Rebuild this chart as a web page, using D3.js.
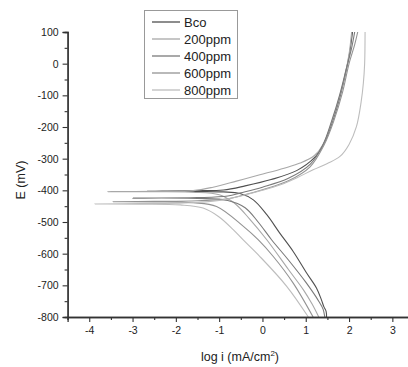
<!DOCTYPE html>
<html><head><meta charset="utf-8">
<script src="https://cdn.jsdelivr.net/npm/d3@7"></script>
<style>body{margin:0;background:#fff}svg{display:block}text{font-family:"Liberation Sans",Arial,sans-serif}</style>
</head><body><svg id="c" width="408" height="367"></svg>
<script>
const seriesNames = ["Bco","200ppm","400ppm","600ppm","800ppm"];
const seriesColors = ["#505050","#a8a8a8","#7a7a7a","#939393","#bdbdbd"];
const xTicks = [-4,-3,-2,-1,0,1,2,3];
const yTicks = [100,0,-100,-200,-300,-400,-500,-600,-700,-800];
// [log i, E]
const bco = [[1.48,-800],[1.47,-782],[1.42,-768],[1.36,-745],[1.25,-709],[1.02,-661],[0.71,-593],[0.40,-535],[0.10,-477],[-0.21,-430],[-0.52,-410],[-0.9,-405],[-1.5,-404],[-2.2,-403.5],[-2.67,-403],[-2.2,-402],[-1.5,-401],[-0.9,-399],[-0.4,-386],[0.2,-366],[0.8,-337],[1.2,-297],[1.42,-252],[1.6,-190],[1.78,-110],[1.92,-30],[2.02,40],[2.08,100]];
const ppm200 = [[1.30,-800],[1.15,-760],[0.95,-715],[0.6,-650],[0.10,-556],[-0.3,-490],[-0.65,-440],[-1.0,-414],[-1.6,-406],[-2.5,-404.5],[-3.57,-404],[-2.5,-403],[-1.6,-401],[-1.14,-390],[-0.6,-371],[-0.06,-351],[0.5,-330],[0.87,-314],[1.2,-290],[1.40,-255],[1.6,-185],[1.75,-120],[1.9,-40],[2.0,30],[2.06,100]];
const ppm400 = [[1.44,-800],[1.40,-775],[1.30,-750],[1.0,-690],[0.6,-620],[0.21,-556],[-0.1,-500],[-0.4,-455],[-0.8,-432],[-1.5,-425.5],[-3.0,-424.5],[-1.5,-423],[-0.8,-418],[-0.5,-408],[0,-390],[0.6,-362],[1.1,-318],[1.40,-255],[1.6,-180],[1.78,-100],[1.93,-20],[2.06,50],[2.13,100]];
const ppm600 = [[1.17,-800],[0.71,-693],[0.25,-609],[-0.10,-556],[-0.44,-514],[-1.06,-451],[-1.6,-439],[-2.5,-436.5],[-3.45,-436],[-2.5,-435],[-1.5,-433],[-0.8,-427],[-0.5,-417],[0,-398],[0.6,-370],[1.1,-326],[1.42,-258],[1.65,-180],[1.85,-90],[2.0,0],[2.13,60],[2.20,100]];
const ppm800 = [[1.06,-800],[0.56,-703],[-0.06,-609],[-0.45,-556],[-0.67,-525],[-1.0,-484],[-1.37,-456],[-1.9,-446],[-2.8,-443.5],[-3.87,-443],[-2.8,-442],[-1.8,-440],[-1.0,-432],[-0.5,-418],[0,-400],[0.4,-383],[0.8,-360],[1.17,-335],[1.5,-315],[1.79,-293],[2.0,-255],[2.17,-199],[2.28,-120],[2.33,-62],[2.36,0],[2.37,100]];
const seriesData = [bco, ppm200, ppm400, ppm600, ppm800];

const svg = d3.select("#c");
const x = d3.scaleLinear().domain([-4.5,3.5]).range([67.6,414]);
const y = d3.scaleLinear().domain([-800,100]).range([317,32]);

const line = d3.line().x(d=>x(d[0])).y(d=>y(d[1])).curve(d3.curveCatmullRom.alpha(0.5));
const g = svg.append("g");
seriesData.forEach((s,i)=>{
  g.append("path").attr("d", line(s)).attr("fill","none")
   .attr("stroke", seriesColors[i]).attr("stroke-width",1.1);
});

const fmt = d => (d<0 ? "-" + Math.abs(d) : String(d));
// axes
const xMinor = d3.range(-4.5,3.6,0.5).filter(v=>!xTicks.includes(v));
const yMinor = d3.range(-750,100,100);
const xa = svg.append("g").attr("transform","translate(0,317)");
xa.call(d3.axisBottom(x).tickValues(xTicks).tickSize(5).tickPadding(5).tickFormat(fmt));
xa.append("g").call(d3.axisBottom(x).tickValues(xMinor).tickSize(3).tickFormat(()=>""));
const ya = svg.append("g").attr("transform","translate(67.6,0)");
ya.call(d3.axisLeft(y).tickValues(yTicks).tickSize(5).tickPadding(4).tickFormat(fmt));
ya.append("g").call(d3.axisLeft(y).tickValues(yMinor).tickSize(3).tickFormat(()=>""));
svg.selectAll(".domain").attr("stroke","#333").attr("stroke-width",1.3);
svg.selectAll(".tick line").attr("stroke","#333").attr("stroke-width",1.1);
svg.selectAll(".tick text").attr("font-size","10.5px").attr("fill","#222").attr("font-family","Liberation Sans, Arial, sans-serif");

svg.append("text").attr("transform","translate(25,180) rotate(-90)").attr("text-anchor","middle")
  .attr("font-size","12.5px").attr("fill","#222").text("E (mV)");
const xl = svg.append("text").attr("x",240).attr("y",361).attr("text-anchor","middle")
  .attr("font-size","12.5px").attr("fill","#222");
xl.append("tspan").text("log i (mA/cm");
xl.append("tspan").attr("font-size","8px").attr("dy",-5).text("2");
xl.append("tspan").attr("dy",5).text(")");

// legend
const lg = svg.append("g");
lg.append("rect").attr("x",144.5).attr("y",10.5).attr("width",93).attr("height",88)
  .attr("fill","#fff").attr("stroke","#999").attr("stroke-width",1);
seriesNames.forEach((n,i)=>{
  const yy = 22 + i*17;
  lg.append("line").attr("x1",152).attr("x2",180).attr("y1",yy).attr("y2",yy)
    .attr("stroke",seriesColors[i]).attr("stroke-width",1.3);
  lg.append("text").attr("x",184).attr("y",yy+4.5).attr("font-size","13px").attr("fill","#222").text(n);
});
</script></body></html>
